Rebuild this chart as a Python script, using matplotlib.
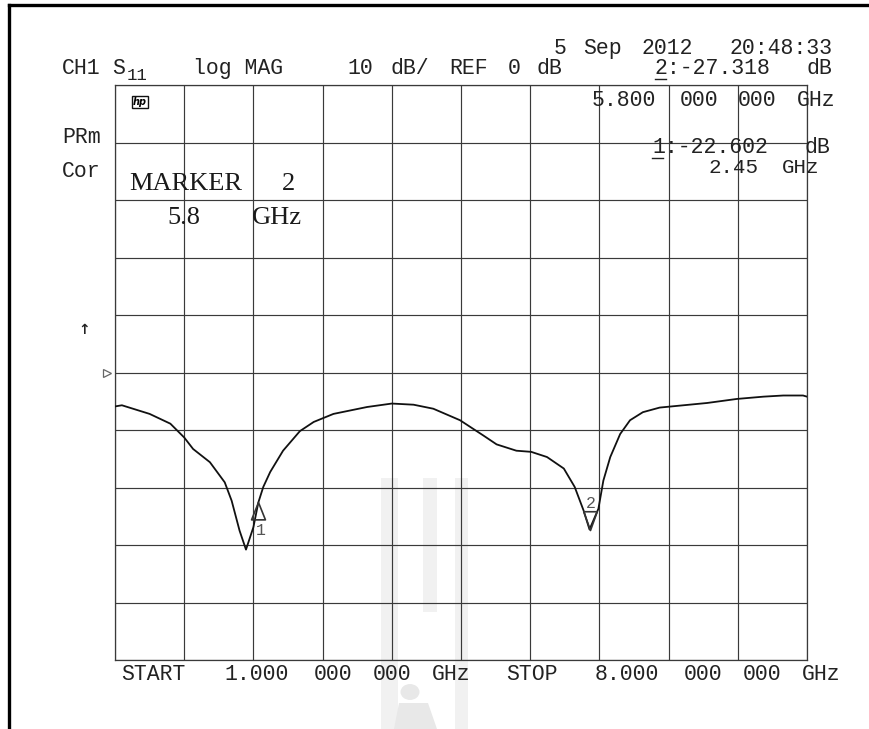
"""
s11 sweep screenshot, redrawn: log MAG, 10 dB/div, 1 - 8 GHz
"""

import numpy as np
import matplotlib
matplotlib.use('Agg')
import matplotlib.pyplot as plt
from matplotlib.lines import Line2D
from matplotlib.path import Path
from matplotlib.patches import Circle, Polygon

# trace (GHz, dB)
freq_ghz = [1.00, 1.07, 1.35, 1.56, 1.70, 1.79, 1.96, 2.11, 2.18, 2.26, 2.325, 2.40,
            2.45, 2.50, 2.57, 2.70, 2.87, 3.01, 3.21, 3.55, 3.80, 4.02, 4.22, 4.49,
            4.73, 4.86, 5.06, 5.21, 5.37, 5.54, 5.65, 5.74, 5.80, 5.89, 5.94, 6.01,
            6.11, 6.21, 6.34, 6.51, 6.75, 6.99, 7.29, 7.56, 7.76, 7.96, 8.00]
s11_db = [-5.9, -5.7, -7.2, -8.9, -11.3, -13.3, -15.6, -19.1, -22.3, -27.5, -30.8, -26.9,
          -22.6, -19.9, -17.3, -13.6, -10.2, -8.6, -7.2, -6.0, -5.4, -5.6, -6.3, -8.3,
          -11.0, -12.5, -13.6, -13.8, -14.7, -16.7, -19.9, -24.0, -27.3, -23.7, -18.8, -14.7,
          -10.7, -8.3, -6.9, -6.1, -5.7, -5.3, -4.6, -4.2, -4.0, -4.0, -4.2]

# markers
marker_ids = ['1', '2']
marker_freq = [2.45, 5.80]
marker_db = [-22.602, -27.318]

start_ghz, stop_ghz = 1.0, 8.0
ref_db, db_per_div = 0, 10

W, H = 869, 729
MONO = 'Liberation Mono'
FS = 15.5

fig = plt.figure(figsize=(W / 100, H / 100), dpi=100)
fig.patch.set_facecolor('white')


def px(x, y):
    return x / W, 1 - y / H


def txt(x, y, s, size=FS, **kw):
    # x = left edge, y = baseline, pixels from the top-left corner
    kw.setdefault('family', MONO)
    kw.setdefault('color', '#222222')
    return fig.text(*px(x, y), s, fontsize=size, ha='left', va='baseline', **kw)


def mono_line(x0, y, s, pitch=14.6, **kw):
    # the analyzer font is wider than Liberation Mono, so keep its character
    # grid by putting every word at its own column
    col = 0
    for w in s.split(' '):
        if w:
            txt(x0 + col * pitch, y, w, **kw)
        col += len(w) + 1


# faint watermark behind everything
wm = '#f1f1f1'
for x0, x1, y0, y1 in [(381, 398, 478, 729), (455, 468, 478, 729), (423, 437, 478, 612)]:
    fig.add_artist(Polygon([px(x0, y0), px(x1, y0), px(x1, y1), px(x0, y1)],
                           closed=True, transform=fig.transFigure, fc=wm, ec='none', zorder=0))
fig.add_artist(Circle(px(410, 692), 9.5 / W, transform=fig.transFigure, fc='#e8e8e8', ec='none', zorder=0))
fig.add_artist(Polygon([px(394, 729), px(437, 729), px(428, 703), px(399, 703)], closed=True,
                       transform=fig.transFigure, fc='#e8e8e8', ec='none', zorder=0))

ax = fig.add_axes([115 / W, 1 - 660 / H, 692 / W, 575 / H])
ax.patch.set_alpha(0)
ax.set_xlim(start_ghz, stop_ghz)
ax.set_ylim(ref_db - 5 * db_per_div, ref_db + 5 * db_per_div)
ax.set_xticks(np.linspace(start_ghz, stop_ghz, 11))
ax.set_yticks(np.arange(-5, 6) * db_per_div + ref_db)
ax.grid(True, color='#3a3a3a', lw=0.85)
ax.tick_params(length=0, labelbottom=False, labelleft=False)
for sp in ax.spines.values():
    sp.set_color('#3a3a3a')
    sp.set_linewidth(0.9)

ax.plot(freq_ghz, s11_db, color='#111111', lw=1.3, zorder=3)

# marker triangles, apex sitting on the trace
up_tri = Path([(0, 0), (-0.4, -1), (0.4, -1), (0, 0)], [1, 2, 2, 79])
down_tri = Path([(0, 0), (-0.36, 1), (0.36, 1), (0, 0)], [1, 2, 2, 79])
ax.plot(marker_freq[0], marker_db[0], marker=up_tri, ms=25, mfc='none', mec='#333333',
        mew=1.2, zorder=4)
ax.plot(marker_freq[1], marker_db[1], marker=down_tri, ms=27, mfc='none', mec='#333333',
        mew=1.2, zorder=4)
ax.annotate(marker_ids[0], (marker_freq[0], marker_db[0]), xytext=(-3, -33),
            textcoords='offset pixels', family=MONO, fontsize=12, color='#555555')
ax.annotate(marker_ids[1], (marker_freq[1], marker_db[1]), xytext=(-4, 22),
            textcoords='offset pixels', family=MONO, fontsize=12, color='#555555')

# reference level pointer
ax.plot(-0.011, ref_db, marker='>', ms=6, mfc='white', mec='#666666', mew=0.9,
        transform=ax.get_yaxis_transform(), clip_on=False)

# header text
mono_line(554, 54, '5 Sep 2012  20:48:33')
txt(62, 74, 'CH1')
txt(112, 74, 'S')
txt(127, 80, '11', size=12.5)
txt(193, 74, 'log MAG')
mono_line(347, 74, '10 dB/ REF 0 dB')
mono_line(655, 74, f'{marker_ids[1]}:{marker_db[1]:.3f} dB', pitch=15.2)
mono_line(592, 106, f'{marker_freq[1]:.3f} 000 000 GHz')
txt(62, 143, 'PRm')
mono_line(652, 153, f'{marker_ids[0]}:{marker_db[0]:.3f} dB', pitch=15.2)
mono_line(709, 173, f'{marker_freq[0]:.2f} GHz', size=15)
txt(62, 177, 'Cor')
txt(78, 334, '↑', size=10, family='DejaVu Sans', weight='bold')

# underlines under the marker numbers
for x0, y0 in [(655, 79), (652, 158)]:
    fig.add_artist(Line2D([x0 / W, (x0 + 11) / W], [1 - y0 / H] * 2, color='#222222', lw=1.0))

# hp badge
fig.text(*px(133, 105), 'hp', fontsize=7, family='DejaVu Sans', weight='bold', style='italic',
         ha='left', va='baseline',
         bbox=dict(boxstyle='square,pad=0.12', fc='white', ec='#111111', lw=1.0))

# big marker note
BIG = dict(size=19, family='Liberation Serif', color='#1a1a1a')
txt(129, 190, 'MARKER', **BIG)
txt(282, 190, '2', **BIG)
txt(167, 224, '5.8', **BIG)
txt(252, 224, 'GHz', **BIG)

# footer
mono_line(121, 680, f'START  {start_ghz:.3f} 000 000 GHz  STOP  {stop_ghz:.3f} 000 000 GHz',
          pitch=14.8)

# page frame (top and left edge of the scan)
fig.add_artist(Line2D([9 / W, 1], [1 - 5 / H] * 2, color='black', lw=2.4))
fig.add_artist(Line2D([9 / W] * 2, [1 - 5 / H, 0], color='black', lw=2.4))

fig.savefig('out.png', dpi=100, facecolor='white')
plt.close(fig)
